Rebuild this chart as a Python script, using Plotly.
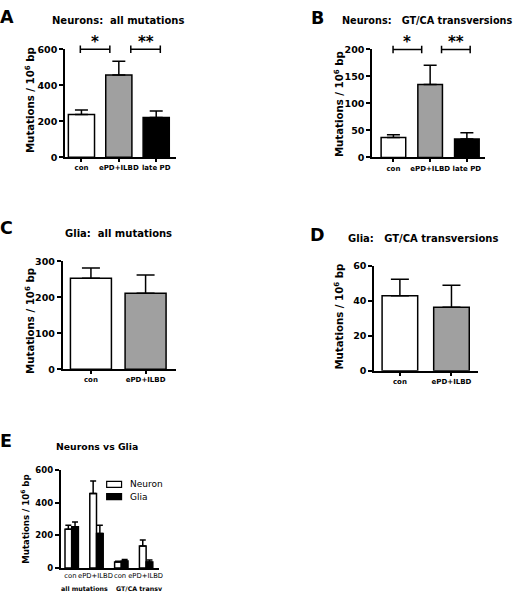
import plotly.graph_objects as go

# ---------------- data ----------------
neuron_groups = ["con", "ePD+ILBD", "late PD"]
glia_groups = ["con", "ePD+ILBD"]

neuron_all = [237, 456, 220]
neuron_all_err = [25, 77, 36]
neuron_gtca = [37, 135, 34]
neuron_gtca_err = [5, 36, 12]

glia_all = [253, 211]
glia_all_err = [28, 51]
glia_gtca = [43, 36.5]
glia_gtca_err = [9.5, 12.5]

e_ticks = ["con", "ePD+ILBD", "con", "ePD+ILBD"]
e_tick_pos = [-0.05, 0.96, 1.95, 2.98]
e_groups = ["all mutations", "GT/CA transv"]
e_group_pos = [0.5, 2.73]
e_neuron = neuron_all[:2] + neuron_gtca[:2]
e_neuron_err = neuron_all_err[:2] + neuron_gtca_err[:2]
e_glia = glia_all + glia_gtca
e_glia_err = glia_all_err + glia_gtca_err

bar_colors = ["white", "#a0a0a0", "black"]

W, H = 520, 599
FONT = "DejaVu Sans"


def px(x):
    return x / W


def py(y):
    return 1 - y / H


fig = go.Figure()


def add_bars(xs, ys, errs, colors, ax, width, capw, offset=None, name=None):
    fig.add_trace(go.Bar(
        x=xs, y=ys, width=width, offset=offset,
        marker=dict(color=colors, line=dict(color="black", width=1.5)),
        error_y=dict(type="data", array=errs, arrayminus=[0] * len(errs),
                     symmetric=False, color="black", thickness=1.5, width=capw),
        xaxis="x" + ax, yaxis="y" + ax, showlegend=False, hoverinfo="skip", name=name))


add_bars(list(range(3)), neuron_all, neuron_all_err, bar_colors, "", 0.7, 6.5)
add_bars(list(range(3)), neuron_gtca, neuron_gtca_err, bar_colors, "2", 0.67, 6.5)
add_bars(list(range(2)), glia_all, glia_all_err, bar_colors[:2], "3", 0.75, 9)
add_bars(list(range(2)), glia_gtca, glia_gtca_err, bar_colors[:2], "4", 0.69, 9)
add_bars(list(range(4)), e_neuron, e_neuron_err, ["white"] * 4, "5", 0.27, 3, offset=-0.27, name="Neuron")
add_bars(list(range(4)), e_glia, e_glia_err, ["black"] * 4, "5", 0.27, 3, offset=0.0, name="Glia")


def xaxis(domain, rng, tickvals, ticktext, anchor, ticks="outside", size=7, weight="bold"):
    return dict(domain=domain, range=rng, anchor=anchor, showline=True, linecolor="black",
                linewidth=1.5, ticks=ticks, ticklen=3, tickwidth=1.5, tickcolor="black",
                tickvals=tickvals, ticktext=ticktext, showgrid=False, zeroline=False,
                tickangle=0,
                tickfont=dict(family=FONT, size=size, color="black", weight=weight))


def yaxis(domain, rng, dtick, anchor, size=9.5):
    return dict(domain=domain, range=rng, anchor=anchor, showline=True, linecolor="black",
                linewidth=1.5, ticks="outside", ticklen=4, tickwidth=1.5, tickcolor="black",
                dtick=dtick, showgrid=False, zeroline=False,
                tickfont=dict(family=FONT, size=size, color="black", weight="bold"))


fig.update_layout(
    width=W, height=H, margin=dict(l=0, r=0, t=0, b=0),
    paper_bgcolor="white", plot_bgcolor="white", barmode="overlay",
    xaxis=xaxis([px(65.5), px(177)], [-0.44, 2.52], [0, 1, 2], neuron_groups, "y"),
    yaxis=yaxis([py(154), py(44)], [0, 600], 200, "x"),
    xaxis2=xaxis([px(375), px(489)], [-0.58, 2.5], [0, 1, 2], neuron_groups, "y2"),
    yaxis2=yaxis([py(154.3), py(44.3)], [0, 200], 50, "x2"),
    xaxis3=xaxis([px(63), px(177)], [-0.52, 1.55], [0, 1], glia_groups, "y3"),
    yaxis3=yaxis([py(370), py(260)], [0, 300], 100, "x3"),
    xaxis4=xaxis([px(377), px(482)], [-0.5, 1.52], [0, 1], glia_groups, "y4"),
    yaxis4=yaxis([py(371.7), py(265)], [0, 60], 20, "x4"),
    xaxis5=xaxis([px(61), px(160)], [-0.45, 3.51], e_tick_pos, e_ticks, "y5", ticks="",
                 size=6.8, weight="normal"),
    yaxis5=yaxis([py(572.5), py(472.7)], [0, 600], 200, "x5", size=8.5),
)

# significance brackets
brackets = [("", -0.03, 0.76, "*"), ("", 1.32, 2.11, "**"),
            ("2", -0.01, 0.77, "*"), ("2", 1.31, 2.09, "**")]
for ax, a, b, star in brackets:
    xr, yr = "x" + ax, ("y" + ax) + " domain"
    fig.add_shape(type="line", xref=xr, yref=yr, x0=a, x1=b, y0=1, y1=1,
                  line=dict(color="black", width=1.5))
    for xv in (a, b):
        fig.add_shape(type="line", xref=xr, yref=yr, x0=xv, x1=xv, ysizemode="pixel",
                      yanchor=1, y0=-3.7, y1=3.7, line=dict(color="black", width=1.5))
    fig.add_annotation(xref=xr, yref=yr, x=(a + b) / 2, y=1, text=star, showarrow=False,
                       yanchor="bottom", yshift=-4,
                       font=dict(family=FONT, size=15, color="black", weight="bold"))

# titles
titles = [
    ("Neurons:  all mutations", 119, 15, 10),
    ("Neurons:   GT/CA transversions", 430, 15, 9.7),
    ("Glia:  all mutations", 119, 232, 10),
    ("Glia:   GT/CA transversions", 426, 237, 10),
    ("Neurons vs Glia", 98, 449, 9.3),
]
for t, x, y, s in titles:
    fig.add_annotation(xref="paper", yref="paper", x=px(x), y=py(y), text=t, showarrow=False,
                       xanchor="center", yanchor="middle",
                       font=dict(family=FONT, size=s, color="black", weight="bold"))

letters = [("A", 7, 11), ("B", 320, 12), ("C", 7, 226), ("D", 320, 233), ("E", 6, 443)]
for t, x, y in letters:
    fig.add_annotation(xref="paper", yref="paper", x=px(x), y=py(y), text=t, showarrow=False,
                       xanchor="center", yanchor="middle",
                       font=dict(family=FONT, size=17.5, color="black", weight="bold"))

ytitle = "Mutations / 10<sup>6</sup> bp"
for x, y, s in [(29, 96, 10.2), (341, 99.5, 10.2), (29, 321, 10.2), (341, 316, 10.2), (25.5, 523, 8.6)]:
    fig.add_annotation(xref="paper", yref="paper", x=px(x), y=py(y), text=ytitle, showarrow=False,
                       textangle=-90, xanchor="center", yanchor="middle",
                       font=dict(family=FONT, size=s, color="black", weight="bold"))

# panel E group labels
for pos, lab in zip(e_group_pos, e_groups):
    fig.add_annotation(xref="x5", yref="paper", x=pos, y=py(593.3), text=lab,
                       showarrow=False, xanchor="center", yanchor="middle",
                       font=dict(family=FONT, size=6.3, color="black", weight="bold"))

# panel E legend
for name, fill, y0 in [("Neuron", "white", 484.3), ("Glia", "black", 496.8)]:
    fig.add_shape(type="rect", xref="paper", yref="paper", x0=px(107.5), x1=px(122.5),
                  y0=py(y0 + 6), y1=py(y0), fillcolor=fill, line=dict(color="black", width=1.2))
    fig.add_annotation(xref="paper", yref="paper", x=px(129), y=py(y0 + 3), text=name,
                       showarrow=False, xanchor="left", yanchor="middle",
                       font=dict(family=FONT, size=9, color="black"))

fig.write_html("out.html", config={"displayModeBar": False},
               post_script="document.body.style.margin='0';")
